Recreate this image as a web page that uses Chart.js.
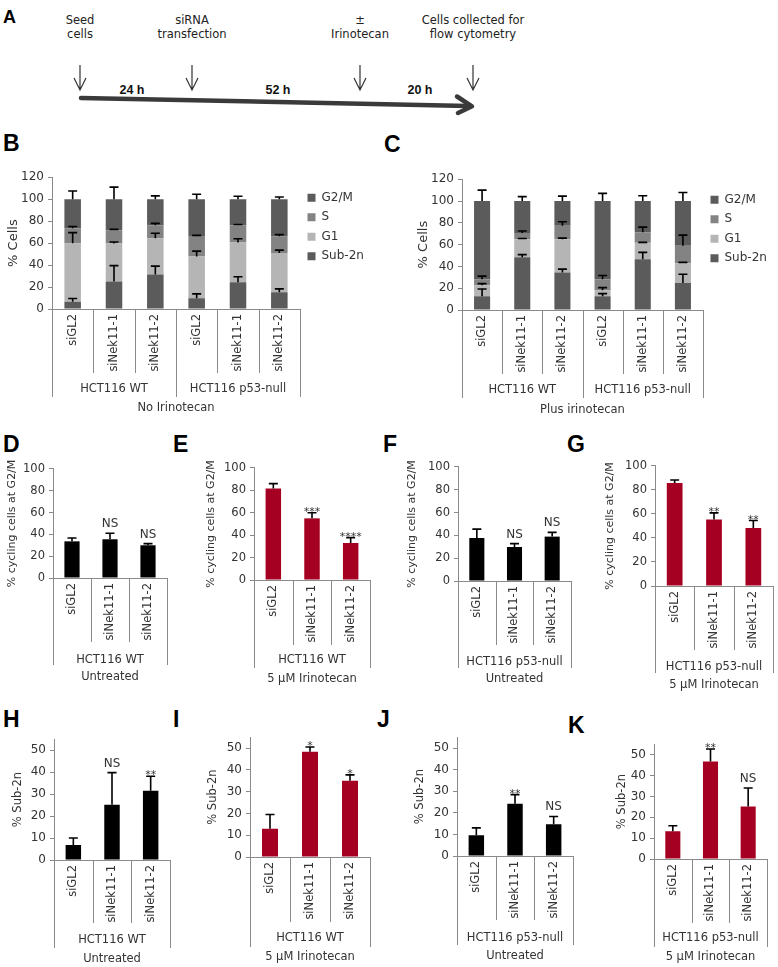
<!DOCTYPE html>
<html>
<head>
<meta charset="utf-8">
<title>Nek11 depletion and irinotecan</title>
<script src="https://cdn.jsdelivr.net/npm/chart.js@4.4.1/dist/chart.umd.min.js"></script>
<style>
  body { margin: 0; background: #fff; }
  #page { position: relative; width: 778px; height: 967px; overflow: hidden; }
  #page svg { position: absolute; left: 0; top: 0; }
  .panel { position: absolute; }
  .tl { font-family: "DejaVu Sans", sans-serif; font-size: 11.5px; fill: #222; }
  .hr { font-family: "Liberation Sans", sans-serif; font-size: 12.5px; font-weight: bold; fill: #111; }
  .pl { font-family: "Liberation Sans", sans-serif; font-size: 23px; font-weight: bold; fill: #000; }
</style>
</head>
<body>
<div id="page">
<svg width="778" height="967">
  <!-- panel A: timeline -->
  <text class="pl" x="3" y="23" style="font-size:18px">A</text>
  <text class="tl" x="80" y="24" text-anchor="middle">Seed</text>
  <text class="tl" x="80" y="38" text-anchor="middle">cells</text>
  <text class="tl" x="192" y="24" text-anchor="middle">siRNA</text>
  <text class="tl" x="192" y="38" text-anchor="middle">transfection</text>
  <text class="tl" x="360" y="24" text-anchor="middle">±</text>
  <text class="tl" x="360" y="38" text-anchor="middle">Irinotecan</text>
  <text class="tl" x="473" y="24" text-anchor="middle">Cells collected for</text>
  <text class="tl" x="473" y="38" text-anchor="middle">flow cytometry</text>
  <g stroke="#333" stroke-width="1.2" fill="none">
    <path d="M80 65 V90 M74 78 L80 90 L86 78"/>
    <path d="M192 65 V90 M186 78 L192 90 L198 78"/>
    <path d="M360 65 V90 M354 78 L360 90 L366 78"/>
    <path d="M473 65 V90 M467 78 L473 90 L479 78"/>
  </g>
  <text class="hr" x="132" y="94" text-anchor="middle">24 h</text>
  <text class="hr" x="278" y="94" text-anchor="middle">52 h</text>
  <text class="hr" x="420" y="94" text-anchor="middle">20 h</text>
  <g stroke="#3a3a3a" stroke-width="4.5" fill="none" stroke-linecap="round" stroke-linejoin="round">
    <path d="M81 98 L468 106"/>
    <path d="M457 96.5 L472 106.3 L458 113"/>
  </g>
  <!-- panel letters -->
  <text class="pl" x="3" y="151">B</text>
  <text class="pl" x="384" y="152">C</text>
  <text class="pl" x="3" y="452">D</text>
  <text class="pl" x="173" y="452">E</text>
  <text class="pl" x="383" y="452">F</text>
  <text class="pl" x="567" y="452">G</text>
  <text class="pl" x="3" y="727">H</text>
  <text class="pl" x="173" y="727">I</text>
  <text class="pl" x="377" y="727">J</text>
  <text class="pl" x="568" y="733">K</text>
</svg>
</div>
<script>
// categories
var cycleCats = ['siGL2', 'siNek11-1', 'siNek11-2', 'siGL2', 'siNek11-1', 'siNek11-2'];
var siCats = ['siGL2', 'siNek11-1', 'siNek11-2'];
var bothLines = ['HCT116 WT', 'HCT116 p53-null'];
var phases = ['Sub-2n', 'G1', 'S', 'G2/M'];

// B - no irinotecan, % cells per phase (segment heights, bottom to top)
var bSub2n = [6.6, 25.1, 31.4, 9.9, 24.3, 15.3];
var bG1 = [53.3, 34.5, 33.0, 38.0, 36.2, 35.6];
var bS = [13.6, 12.0, 11.9, 18.6, 15.8, 15.3];
var bG2M = [26.5, 28.4, 23.7, 33.5, 23.7, 33.8];
var bSub2nErr = [3.0, 14.4, 7.6, 3.9, 5.0, 3.0];
var bG1Err = [9.6, 1.4, 4.5, 4.8, 3.5, 2.7];
var bSErr = [1.6, 0.9, 1.7, 0.5, 0.7, 1.5];
var bG2MErr = [7.5, 11.0, 3.0, 4.5, 2.7, 2.0];

// C - plus irinotecan
var cSub2n = [12.7, 48.3, 34.4, 12.7, 46.5, 24.7];
var cG1 = [10.0, 16.7, 30.6, 5.4, 15.1, 18.1];
var cS = [5.4, 5.7, 12.3, 10.0, 9.7, 16.2];
var cG2M = [71.9, 29.3, 22.7, 71.9, 28.7, 41.0];
var cSub2nErr = [6.6, 2.5, 3.1, 2.3, 6.4, 8.1];
var cG1Err = [1.5, 0.6, 0.9, 2.4, 0.4, 0.9];
var cSErr = [3.0, 1.8, 3.7, 3.6, 4.7, 9.7];
var cG2MErr = [10.0, 4.0, 4.5, 7.0, 4.8, 7.8];

// D-G  % cycling cells at G2/M
var dVals = [33.6, 35.5, 30.0], dErr = [3.0, 5.5, 1.5], dSig = ['', 'NS', 'NS'];
var eVals = [81.7, 55.0, 33.0], eErr = [4.3, 5.0, 4.8], eSig = ['', '***', '****'];
var fVals = [37.7, 29.8, 38.9], fErr = [7.8, 3.0, 3.7], fSig = ['', 'NS', 'NS'];
var gVals = [85.7, 55.4, 48.2], gErr = [2.5, 5.5, 6.3], gSig = ['', '**', '**'];

// H-K  % Sub-2n
var hVals = [6.8, 25.1, 31.5], hErr = [3.2, 14.7, 6.6], hSig = ['', 'NS', '**'];
var iVals = [13.0, 48.3, 35.0], iErr = [6.5, 2.2, 2.7], iSig = ['', '*', '*'];
var jVals = [9.6, 24.2, 14.7], jErr = [3.4, 4.2, 3.6], jSig = ['', '**', 'NS'];
var kVals = [13.3, 46.7, 25.1], kErr = [2.6, 6.0, 8.9], kSig = ['', '**', 'NS'];

var darkGrey = '#5b5b5b', midGrey = '#838383', lightGrey = '#b5b5b5';
var red = '#a50021', axisGrey = '#8a8a8a', txt = '#333';

Chart.defaults.font.family = "'DejaVu Sans', sans-serif";
Chart.defaults.color = txt;

// error bars (upward only) + significance marks, drawn on the library's y scale
var errorBars = {
  id: 'errorBars',
  afterDatasetsDraw: function(chart) {
    var ctx = chart.ctx, y = chart.scales.y, cum = [];
    chart.data.datasets.forEach(function(ds, di) {
      var meta = chart.getDatasetMeta(di);
      ds.data.forEach(function(v, i) {
        cum[i] = (cum[i] || 0) + v;
        if (!ds.errors) return;
        var bar = meta.data[i];
        var top = y.getPixelForValue(cum[i] + ds.errors[i]);
        ctx.save();
        ctx.strokeStyle = '#000';
        ctx.lineWidth = 1.6;
        ctx.beginPath();
        ctx.moveTo(bar.x, bar.y);
        ctx.lineTo(bar.x, top);
        ctx.moveTo(bar.x - 4.5, top);
        ctx.lineTo(bar.x + 4.5, top);
        ctx.stroke();
        var s = ds.sig ? ds.sig[i] : '';
        if (s) {
          ctx.fillStyle = txt;
          ctx.textAlign = 'center';
          ctx.textBaseline = 'alphabetic';
          if (s.indexOf('*') >= 0) {
            ctx.font = "11px 'DejaVu Sans'";
            ctx.fillText(s, bar.x, top + 2);
          } else {
            ctx.font = "12px 'DejaVu Sans'";
            ctx.fillText(s, bar.x, top - 6);
          }
        }
        ctx.restore();
      });
    });
  }
};

// Excel style two level category axis: divider lines + cell line names
var groupAxis = {
  id: 'groupAxis',
  afterDraw: function(chart, args, opts) {
    var ctx = chart.ctx, x = chart.scales.x, y0 = chart.chartArea.bottom;
    var n = chart.data.labels.length, w = (x.right - x.left) / n;
    ctx.save();
    ctx.strokeStyle = axisGrey;
    ctx.lineWidth = 1;
    for (var i = 0; i <= n; i++) {
      var px = Math.round(x.left + i * w) + 0.5;
      var len = (i % opts.size === 0) ? opts.groupLine : opts.catLine;
      ctx.beginPath();
      ctx.moveTo(px, y0);
      ctx.lineTo(px, y0 + len);
      ctx.stroke();
    }
    ctx.fillStyle = txt;
    ctx.font = "11.5px 'DejaVu Sans'";
    ctx.textAlign = 'center';
    ctx.textBaseline = 'middle';
    opts.names.forEach(function(name, k) {
      var cx = x.left + (k + 0.5) * opts.size * w;
      ctx.fillText(name, cx, y0 + opts.labelY);
    });
    ctx.restore();
  }
};

function barPanel(id, g, labels, datasets, o) {
  var left = g.axis - 54, top = g.yTop - 10;
  var legendW = o.legend ? 64 : 0;
  var box = document.createElement('div');
  box.className = 'panel';
  box.style.left = left + 'px';
  box.style.top = top + 'px';
  box.style.width = (g.right - left + legendW + 4) + 'px';
  box.style.height = (g.bottom - top) + 'px';
  box.innerHTML = '<canvas id="' + id + '"></canvas>';
  document.getElementById('page').appendChild(box);

  var ctx = document.getElementById(id).getContext('2d');
  return new Chart(ctx, {
    type: 'bar',
    data: { labels: labels, datasets: datasets },
    options: {
      responsive: true,
      maintainAspectRatio: false,
      animation: false,
      devicePixelRatio: 1,
      layout: { padding: { top: 10, right: 4, left: 0, bottom: 0 } },
      datasets: { bar: { categoryPercentage: 1, barPercentage: 0.4 } },
      scales: {
        x: {
          stacked: true,
          grid: { display: false, drawTicks: false },
          border: { color: axisGrey, width: 1 },
          ticks: { autoSkip: false, minRotation: 90, maxRotation: 90, padding: 5, font: { size: 11.5 }, color: txt },
          title: { display: true, text: o.xTitle, font: { size: 11.5 }, color: txt, padding: { top: 0, bottom: 1 } },
          afterFit: function(s) { s.height = g.bottom - g.y0; }
        },
        y: {
          stacked: true,
          min: 0,
          max: o.max,
          grid: { drawOnChartArea: false, drawTicks: true, tickLength: 4, color: axisGrey },
          border: { color: axisGrey },
          ticks: { stepSize: o.step, padding: 4, font: { size: o.tickSize || 12 }, color: txt },
          title: { display: true, text: o.yTitle, font: { size: o.yTitleSize }, color: txt, padding: { top: g.tPad, bottom: 0 } },
          afterBuildTicks: function(s) {
            var t = [];
            for (var v = 0; v <= o.max; v += o.step) t.push({ value: v });
            s.ticks = t;
          },
          afterFit: function(s) { s.width = 54; }
        }
      },
      plugins: {
        legend: o.legend ? {
          display: true,
          position: 'right',
          align: 'start',
          fullSize: false,
          reverse: true,
          maxWidth: legendW,
          title: { display: true, text: ' ', font: { size: 5 }, padding: { top: 1, bottom: 0 } },
          labels: { boxWidth: 8, boxHeight: 8, padding: 7.5, font: { size: 12 }, color: txt }
        } : { display: false },
        tooltip: { enabled: false },
        groupAxis: { names: o.groups, size: 3, catLine: g.catLine, groupLine: g.groupLine, labelY: g.labelY }
      }
    },
    plugins: [errorBars, groupAxis]
  });
}

function phaseSets(sub, g1, s, g2m, subE, g1E, sE, g2mE) {
  return [
    { label: phases[0], data: sub, errors: subE, backgroundColor: darkGrey, borderWidth: 0 },
    { label: phases[1], data: g1, errors: g1E, backgroundColor: lightGrey, borderWidth: 0 },
    { label: phases[2], data: s, errors: sE, backgroundColor: midGrey, borderWidth: 0 },
    { label: phases[3], data: g2m, errors: g2mE, backgroundColor: darkGrey, borderWidth: 0 }
  ];
}

function oneSet(vals, errs, sig, colour) {
  return [{ label: '', data: vals, errors: errs, sig: sig, backgroundColor: colour, borderWidth: 0 }];
}

// B and C
barPanel('chartB', { axis: 52, right: 300, yTop: 176, y0: 309, bottom: 416, catLine: 64, groupLine: 88, labelY: 80, tPad: 8 },
  cycleCats, phaseSets(bSub2n, bG1, bS, bG2M, bSub2nErr, bG1Err, bSErr, bG2MErr),
  { legend: true, max: 120, step: 20, yTitle: '% Cells', yTitleSize: 13, xTitle: 'No Irinotecan', groups: bothLines });
barPanel('chartC', { axis: 462, right: 703, yTop: 178, y0: 310, bottom: 418, catLine: 64, groupLine: 88, labelY: 80, tPad: 8 },
  cycleCats, phaseSets(cSub2n, cG1, cS, cG2M, cSub2nErr, cG1Err, cSErr, cG2MErr),
  { legend: true, max: 120, step: 20, yTitle: '% Cells', yTitleSize: 13, xTitle: 'Plus irinotecan', groups: bothLines });

// D-G
var g2mTitle = '% cycling cells at G2/M';
barPanel('chartD', { axis: 53, right: 167, yTop: 468, y0: 578, bottom: 685, catLine: 64, groupLine: 87, labelY: 82, tPad: 7 },
  siCats, oneSet(dVals, dErr, dSig, '#000'),
  { max: 100, step: 20, tickSize: 11.5, yTitle: g2mTitle, yTitleSize: 11, xTitle: 'Untreated', groups: ['HCT116 WT'] });
barPanel('chartE', { axis: 254, right: 370, yTop: 467, y0: 580, bottom: 687, catLine: 65, groupLine: 88, labelY: 80, tPad: 5 },
  siCats, oneSet(eVals, eErr, eSig, red),
  { max: 100, step: 20, tickSize: 11.5, yTitle: g2mTitle, yTitleSize: 11, xTitle: '5 µM Irinotecan', groups: ['HCT116 WT'] });
barPanel('chartF', { axis: 458, right: 571, yTop: 466, y0: 581, bottom: 687, catLine: 64, groupLine: 87, labelY: 81, tPad: 2 },
  siCats, oneSet(fVals, fErr, fSig, '#000'),
  { max: 100, step: 20, tickSize: 11.5, yTitle: g2mTitle, yTitleSize: 11, xTitle: 'Untreated', groups: ['HCT116 p53-null'] });
barPanel('chartG', { axis: 655, right: 773, yTop: 465, y0: 586, bottom: 693, catLine: 64, groupLine: 87, labelY: 81, tPad: 3 },
  siCats, oneSet(gVals, gErr, gSig, red),
  { max: 100, step: 20, tickSize: 11.5, yTitle: g2mTitle, yTitleSize: 11, xTitle: '5 µM Irinotecan', groups: ['HCT116 p53-null'] });

// H-K
barPanel('chartH', { axis: 54, right: 170, yTop: 738, y0: 860, bottom: 967, catLine: 63, groupLine: 88, labelY: 80, tPad: 11 },
  siCats, oneSet(hVals, hErr, hSig, '#000'),
  { max: 55, step: 10, yTitle: '% Sub-2n', yTitleSize: 11.5, xTitle: 'Untreated', groups: ['HCT116 WT'] });
barPanel('chartI', { axis: 250, right: 370, yTop: 736, y0: 857, bottom: 965, catLine: 65, groupLine: 90, labelY: 81, tPad: 10 },
  siCats, oneSet(iVals, iErr, iSig, red),
  { max: 55, step: 10, yTitle: '% Sub-2n', yTitleSize: 11.5, xTitle: '5 µM Irinotecan', groups: ['HCT116 WT'] });
barPanel('chartJ', { axis: 457, right: 573, yTop: 736, y0: 856, bottom: 964, catLine: 64, groupLine: 89, labelY: 82, tPad: 10 },
  siCats, oneSet(jVals, jErr, jSig, '#000'),
  { max: 55, step: 10, yTitle: '% Sub-2n', yTitleSize: 11.5, xTitle: 'Untreated', groups: ['HCT116 p53-null'] });
barPanel('chartK', { axis: 654, right: 767, yTop: 743, y0: 859, bottom: 965, catLine: 64, groupLine: 88, labelY: 79, tPad: 15 },
  siCats, oneSet(kVals, kErr, kSig, red),
  { max: 55, step: 10, yTitle: '% Sub-2n', yTitleSize: 11.5, xTitle: '5 µM Irinotecan', groups: ['HCT116 p53-null'] });
</script>
</body>
</html>
